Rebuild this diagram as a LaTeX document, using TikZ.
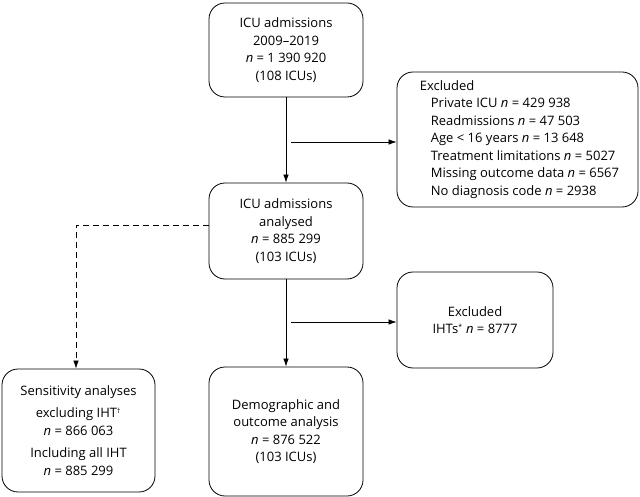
\documentclass[tikz,border=0pt]{standalone}
\usepackage{fontspec}
\setmainfont{Open Sans}
\usetikzlibrary{arrows.meta,calc}
\newcommand{\smsup}[1]{\textsuperscript{\scriptsize #1}}
\begin{document}
\begin{tikzpicture}[x=1pt,y=-1pt,
  font=\fontsize{13}{17.5}\selectfont,
  box/.style={draw, line width=0.8pt, rounded corners=16pt, inner sep=0pt},
  arr/.style={-{Latex[length=8pt,width=5.5pt]}, line width=0.7pt}]
\useasboundingbox (0,0) rectangle (640,497);
\node[box, minimum width=154pt, minimum height=94pt, align=center] (adm) at (286,50)
  {ICU admissions\\2009--2019\\\textit{n} = 1 390 920\\(108 ICUs)};
\node[box, minimum width=241pt, minimum height=135pt, align=left] (exc1) at (517.5,139.5)
  {\hspace*{4pt}Excluded\\
   \hspace*{15pt}Private ICU \textit{n} = 429 938\\
   \hspace*{15pt}Readmissions \textit{n} = 47 503\\
   \hspace*{15pt}Age < 16 years \textit{n} = 13 648\\
   \hspace*{15pt}Treatment limitations \textit{n} = 5027\\
   \hspace*{15pt}Missing outcome data \textit{n} = 6567\\
   \hspace*{15pt}No diagnosis code \textit{n} = 2938};
\node[box, minimum width=154pt, minimum height=96pt, align=center] (ana) at (286,231)
  {ICU admissions\\analysed\\\textit{n} = 885 299\\(103 ICUs)};
\node[box, minimum width=156pt, minimum height=96pt, align=center] (exc2) at (475,320)
  {Excluded\\IHTs\smsup{*} \textit{n} = 8777};
\node[box, minimum width=153pt, minimum height=123pt, align=center] (sens) at (78.5,430.5)
  {Sensitivity analyses\\[5pt]excluding IHT\smsup{\textdagger}\\\textit{n} = 866 063\\[5pt]Including all IHT\\\textit{n} = 885 299};
\node[box, minimum width=154pt, minimum height=129pt, align=center] (demo) at (286,431.5)
  {Demographic and\\outcome analysis\\\textit{n} = 876 522\\(103 ICUs)};
% main flow
\draw[arr] (adm) -- (ana);
\draw[arr] (ana) -- (demo);
\coordinate (b1) at (291,142);
\draw[arr] (b1) -- (b1 -| exc1.west);
\coordinate (b2) at (291,322);
\draw[arr] (b2) -- (b2 -| exc2.west);
% dashed branch
\coordinate (ds) at ($(ana.west)+(0,-6)$);
\coordinate (dk) at (76,225);
\draw[arr, dash pattern=on 6pt off 4pt] (ds) -- (dk) -- (dk |- sens.north);
\end{tikzpicture}
\end{document}
